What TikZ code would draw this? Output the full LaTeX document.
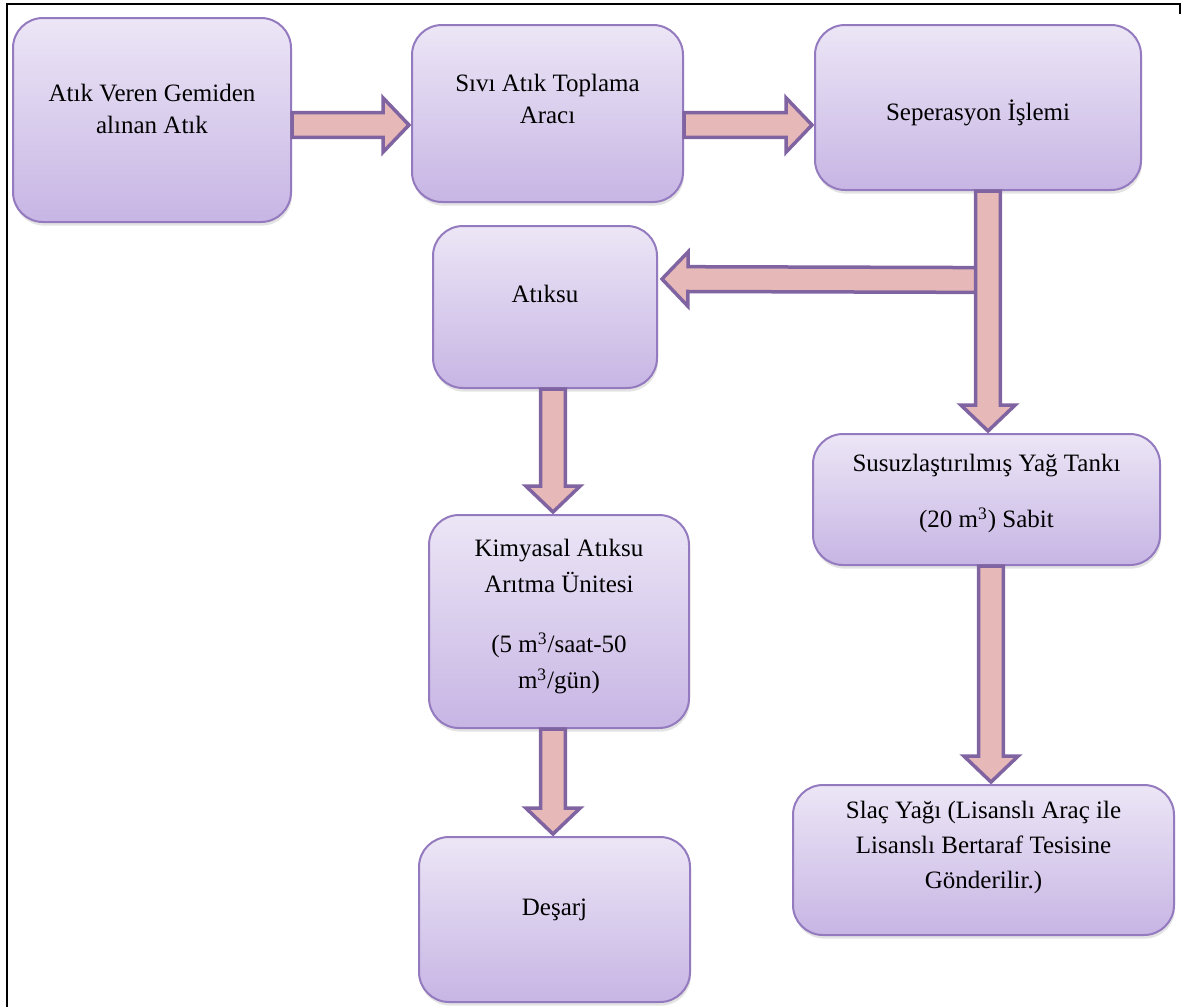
\documentclass[tikz,border=0pt]{standalone}
\usepackage{fontspec}
\setmainfont{Liberation Serif}
\usepackage{tikz}
\usetikzlibrary{calc, shadows}
\definecolor{cBoxTop}{RGB}{236,230,246}
\definecolor{cBoxBot}{RGB}{199,181,228}
\definecolor{cBoxLine}{RGB}{148,122,190}
\definecolor{cArrFill}{RGB}{230,184,183}
\definecolor{cArrLine}{RGB}{128,100,162}
\tikzset{
	stage/.style   ={rectangle, rounded corners=15pt, draw=cBoxLine, line width=1pt, top color=cBoxTop, bottom color=cBoxBot, align=center, inner sep=0pt, font=\fontsize{12.5}{16}\selectfont, drop shadow={opacity=0.22, shadow xshift=0.5pt, shadow yshift=-1.8pt}},
	% block arrow between two points
	fatarrow/.style={draw=cArrLine, fill=cArrFill, line width=1.75pt, line join=miter,
		to path={let \p1=(\tikztostart), \p2=(\tikztotarget),
			\n1={atan2(\y2-\y1,\x2-\x1)}, \n2={veclen(\x2-\x1,\y2-\y1)-1pt}, \n3={\n2-13pt} in
			{[shift={(\p1)}, rotate=\n1]
				(0,-6.2pt) -- (\n3,-6.2pt) -- (\n3,-13.6pt) -- (\n2,0pt)
				-- (\n3,13.6pt) -- (\n3,6.2pt) -- (0,6.2pt) -- cycle}}},
}
\begin{document}
\begin{tikzpicture}[x=0.5pt, y=-0.5pt]
	\useasboundingbox (0,0) rectangle (1181,1007);
	% page frame
	\draw[line width=1pt] (7,1007) -- (7,4) -- (1180,4) -- (1180,14);
	% boxes
	\node[stage, minimum width=139pt, minimum height=102pt, text depth=10.7pt] (ship) at (152,120) {Atık Veren Gemiden\\alınan Atık};
	\node[stage, minimum width=135.5pt, minimum height=88.5pt, text depth=15pt] (tanker) at (547.5,113.5) {Sıvı Atık Toplama\\Aracı};
	\node[stage, minimum width=163pt, minimum height=82.5pt, text height=16pt] (sep) at (978,107.5) {Seperasyon İşlemi};
	\node[stage, minimum width=112pt, minimum height=81pt, text depth=12.7pt] (atiksu) at (545,307) {Atıksu};
	\node[stage, minimum width=173.5pt, minimum height=65.5pt, text depth=8.2pt] (oiltank) at (986.5,499.5) {Susuzlaştırılmış Yağ Tankı\\[12pt](20 m\textsuperscript{3}) Sabit};
	\node[stage, minimum width=130pt, minimum height=106.5pt, text depth=7.2pt, font=\fontsize{12.5}{18}\selectfont] (treat) at (559,621.5) {Kimyasal Atıksu\\Arıtma Ünitesi\\[12pt](5 m\textsuperscript{3}/saat-50\\m\textsuperscript{3}/gün)};
	\node[stage, minimum width=135.5pt, minimum height=82.5pt, text depth=12.2pt] (discharge) at (554.5,919.5) {Deşarj};
	\node[stage, minimum width=190.5pt, minimum height=75pt, text depth=14.7pt, font=\fontsize{12.5}{17.5}\selectfont] (sludge) at (983.5,860) {Slaç Yağı (Lisanslı Araç ile\\Lisanslı Bertaraf Tesisine\\Gönderilir.)};
	% arrows
	\coordinate (split) at ($(sep.south)+(10,89)$);
	\draw[fatarrow] ($(ship.east)+(0,5)$) to ($(tanker.west)+(0,11.5)$);
	\draw[fatarrow] ($(tanker.east)+(0,11.5)$) to ($(sep.west)+(0,17.5)$);
	\draw[fatarrow] (split) to ($(atiksu.east)+(2,-28)$);
	\draw[fatarrow] ($(sep.south)+(10,0)$) to ($(oiltank.north)+(1.5,0)$);
	\draw[fatarrow] ($(atiksu.south)+(8,0)$) to ($(treat.north)+(-6,0)$);
	\draw[fatarrow] ($(treat.south)+(-6,0)$) to ($(discharge.north)+(-1.5,0)$);
	\draw[fatarrow] ($(oiltank.south)+(4.5,0)$) to ($(sludge.north)+(7.5,0)$);
\end{tikzpicture}
\end{document}
